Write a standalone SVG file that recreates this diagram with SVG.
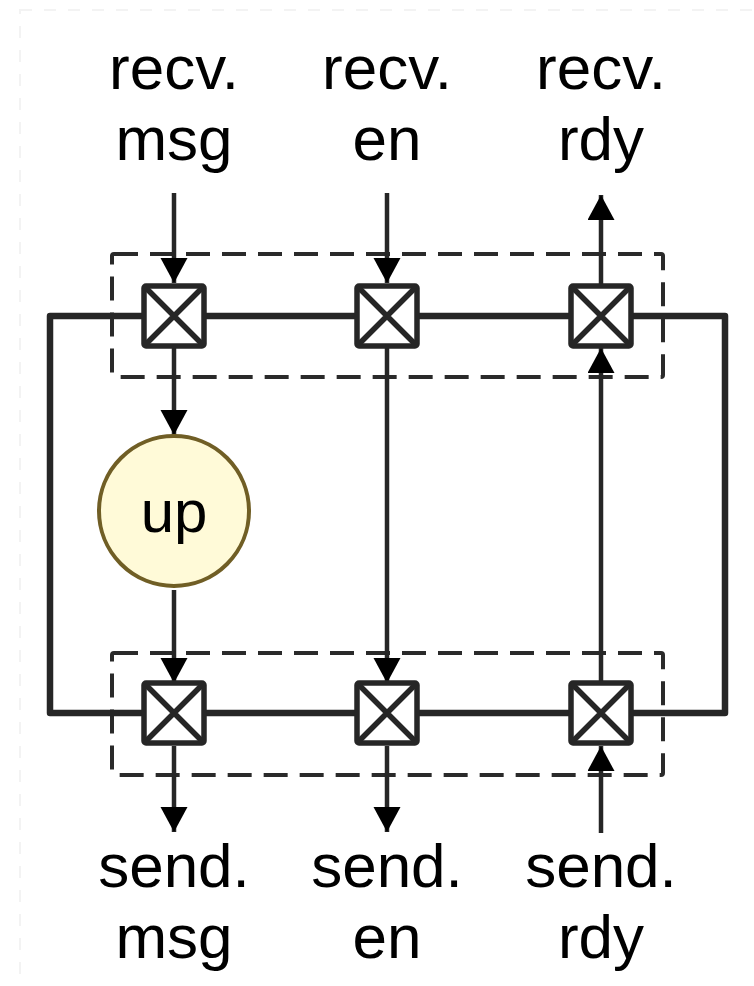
<svg xmlns="http://www.w3.org/2000/svg" width="754" height="986" viewBox="0 0 754 986">
<defs>
<style>
.lbl{font-family:"Liberation Sans",Arial,sans-serif;font-size:62px;fill:#000;text-anchor:middle}
.sw{fill:#fff;stroke:#262626;stroke-width:5.5}
.sw path{fill:none}
.dash{fill:none;stroke:#2a2a2a;stroke-width:4;stroke-dasharray:24 12}
.ar{stroke:#262626;stroke-width:4.5;fill:none;marker-end:url(#ah)}
</style>
<marker id="ah" markerUnits="userSpaceOnUse" markerWidth="26" markerHeight="28" refX="25" refY="13.5" orient="auto">
<path d="M0,0 L25,13.5 L0,27 z" fill="#000"/>
</marker>
</defs>
<rect x="20" y="10" width="740" height="990" fill="none" stroke="#f3f3f3" stroke-width="2" stroke-dasharray="12 12"/>
<g id="labels">
<text class="lbl" x="174" y="89">recv.</text><text class="lbl" x="174" y="160">msg</text>
<text class="lbl" x="387" y="89">recv.</text><text class="lbl" x="387" y="160">en</text>
<text class="lbl" x="601" y="89">recv.</text><text class="lbl" x="601" y="160">rdy</text>
<text class="lbl" x="174" y="887">send.</text><text class="lbl" x="174" y="958">msg</text>
<text class="lbl" x="387" y="887">send.</text><text class="lbl" x="387" y="958">en</text>
<text class="lbl" x="601" y="887">send.</text><text class="lbl" x="601" y="958">rdy</text>
</g>
<g id="groups">
<rect class="dash" x="112" y="254" width="551" height="123" rx="2"/>
<rect class="dash" x="112" y="653" width="551" height="122" rx="2"/>
</g>
<g id="connectors">
<path d="M50,316 L725,316 L725,713 L50,713 Z" fill="none" stroke="#262626" stroke-width="6.5" stroke-linejoin="round"/>
<line class="ar" x1="174" y1="193" x2="174" y2="283"/>
<line class="ar" x1="387" y1="193" x2="387" y2="283"/>
<line class="ar" x1="601" y1="284" x2="601" y2="195"/>
<line class="ar" x1="174" y1="348" x2="174" y2="435"/>
<line class="ar" x1="174" y1="590" x2="174" y2="683"/>
<line class="ar" x1="387" y1="348" x2="387" y2="683"/>
<line class="ar" x1="601" y1="683" x2="601" y2="348"/>
<line class="ar" x1="174" y1="746" x2="174" y2="832"/>
<line class="ar" x1="387" y1="746" x2="387" y2="832"/>
<line class="ar" x1="601" y1="833" x2="601" y2="746"/>
</g>
<g id="sw-top-msg" class="sw"><rect x="144" y="286" width="60" height="60" rx="2"/><path d="M144,286 L204,346 M204,286 L144,346"/></g>
<g id="sw-top-en" class="sw"><rect x="357" y="286" width="60" height="60" rx="2"/><path d="M357,286 L417,346 M417,286 L357,346"/></g>
<g id="sw-top-rdy" class="sw"><rect x="571" y="286" width="60" height="60" rx="2"/><path d="M571,286 L631,346 M631,286 L571,346"/></g>
<g id="sw-bot-msg" class="sw"><rect x="144" y="683" width="60" height="60" rx="2"/><path d="M144,683 L204,743 M204,683 L144,743"/></g>
<g id="sw-bot-en" class="sw"><rect x="357" y="683" width="60" height="60" rx="2"/><path d="M357,683 L417,743 M417,683 L357,743"/></g>
<g id="sw-bot-rdy" class="sw"><rect x="571" y="683" width="60" height="60" rx="2"/><path d="M571,683 L631,743 M631,683 L571,743"/></g>
<g id="up">
<circle cx="174" cy="511" r="75" fill="#fffad8" stroke="#705e25" stroke-width="4"/>
<text class="lbl" x="174" y="532" style="font-size:60px">up</text>
</g>
</svg>
